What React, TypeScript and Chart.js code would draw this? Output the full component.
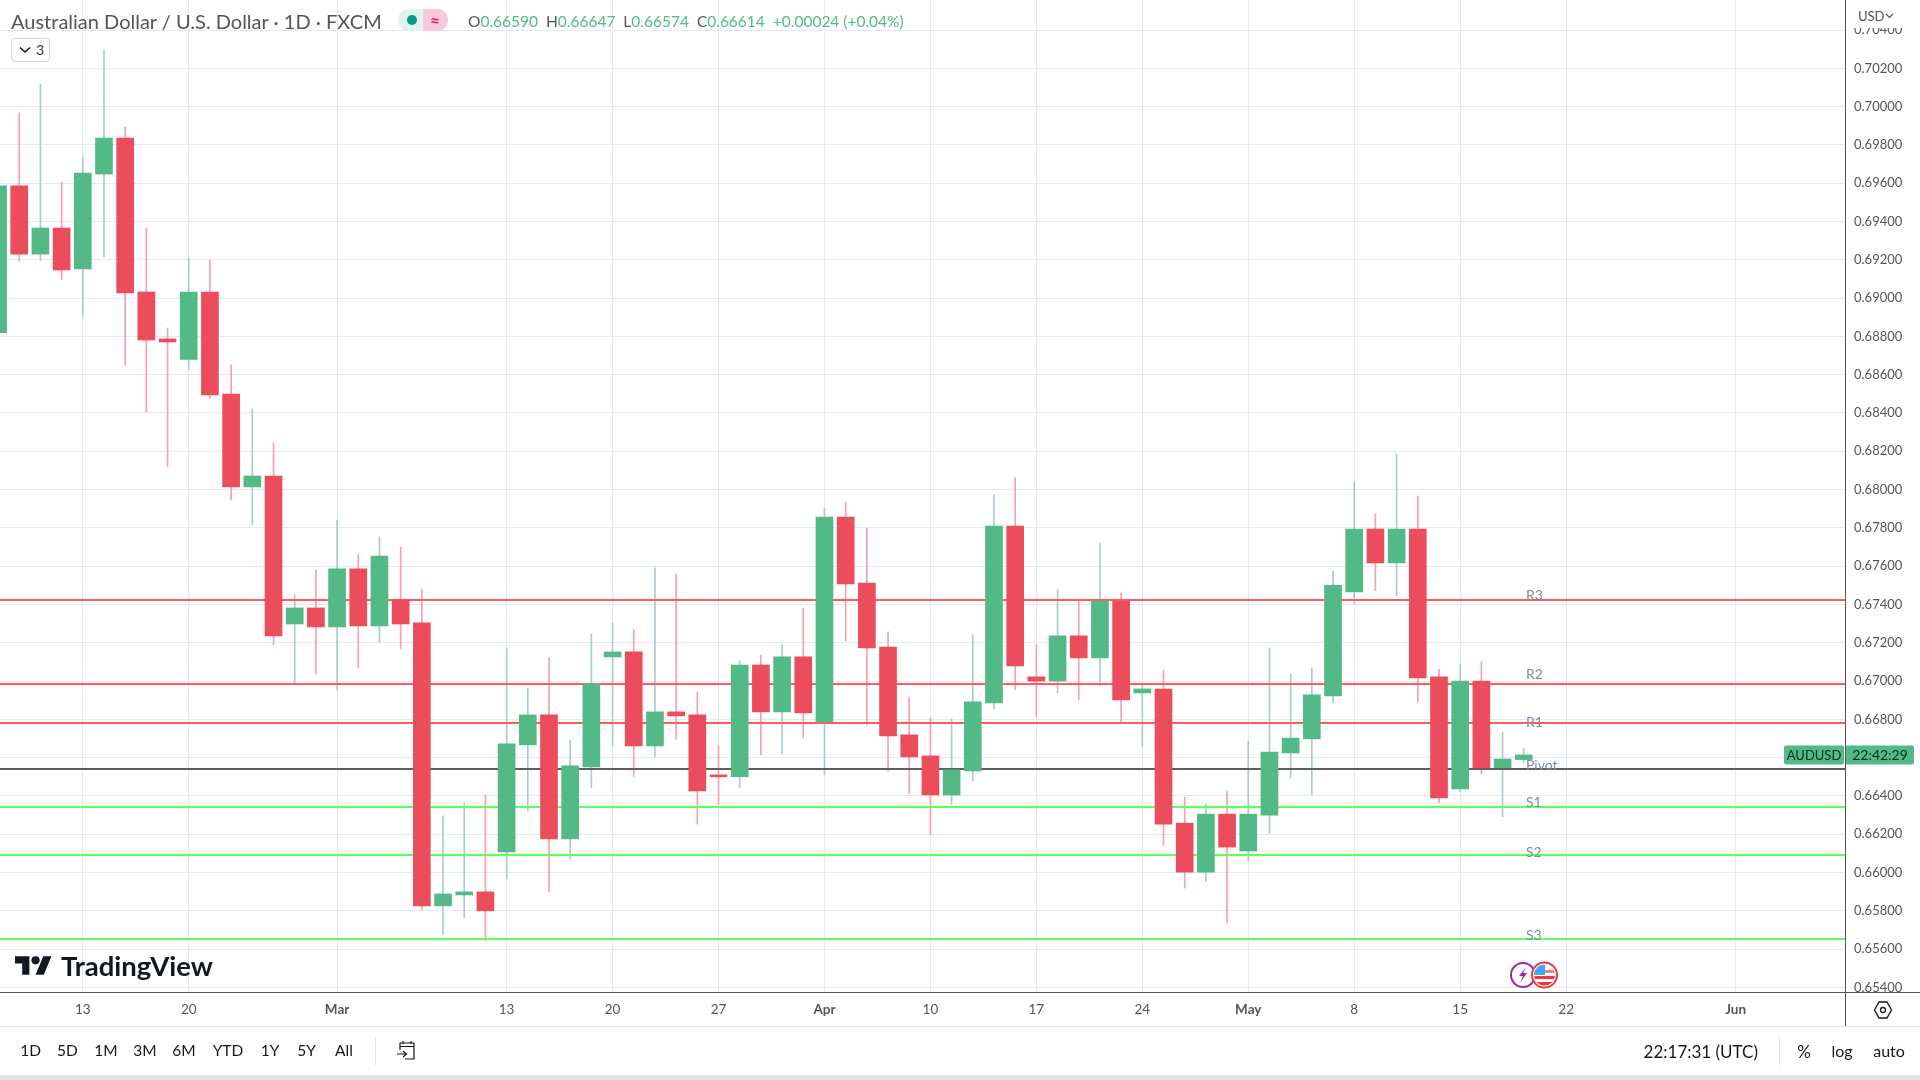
import React, { useEffect, useRef } from "react";
import { Chart, registerables } from "chart.js";

Chart.register(...registerables);

const opens = [0.6882,0.69586,0.6923,0.69366,0.69152,0.69648,0.69836,0.69032,0.68787,0.6868,0.69032,0.68499,0.68014,0.68071,0.67298,0.67382,0.67283,0.67586,0.67288,0.67424,0.67304,0.65826,0.65883,0.65899,0.66108,0.66667,0.66823,0.66176,0.66552,0.67126,0.67152,0.66661,0.66839,0.66823,0.6651,0.665,0.67084,0.66839,0.67126,0.66787,0.67857,0.67512,0.67178,0.66719,0.66609,0.66405,0.66531,0.66886,0.6781,0.67022,0.67,0.67236,0.67121,0.67418,0.66938,0.66958,0.66258,0.66002,0.66305,0.66112,0.663,0.66624,0.66698,0.66922,0.67465,0.67794,0.67617,0.67794,0.67022,0.66437,0.67,0.66547,0.6659];
const highs = [0.697,0.69967,0.70118,0.69606,0.69737,0.70296,0.69894,0.69366,0.68844,0.6921,0.692,0.68651,0.68421,0.68244,0.6745,0.6758,0.67841,0.67664,0.67753,0.677,0.67481,0.66296,0.66364,0.66405,0.67173,0.66964,0.67121,0.6669,0.67246,0.67304,0.67267,0.67591,0.67559,0.66943,0.66661,0.67105,0.67136,0.67189,0.67382,0.67904,0.67935,0.678,0.67257,0.66917,0.66807,0.66802,0.67241,0.67972,0.68061,0.67194,0.67476,0.67424,0.67721,0.6746,0.6698,0.67057,0.66394,0.66357,0.66425,0.66686,0.67172,0.67037,0.67069,0.67575,0.6804,0.67873,0.68186,0.67967,0.67063,0.67089,0.671,0.66734,0.66647];
const lows = [0.6875,0.69194,0.69194,0.69095,0.68907,0.69215,0.68651,0.68404,0.68118,0.6863,0.68478,0.67946,0.67815,0.67189,0.66985,0.67037,0.66954,0.67069,0.67204,0.67168,0.65805,0.65679,0.65763,0.65643,0.65967,0.66322,0.65899,0.66071,0.66442,0.66661,0.665,0.66604,0.66698,0.66253,0.66355,0.66442,0.66614,0.6662,0.66703,0.6651,0.6721,0.66771,0.66531,0.66411,0.66197,0.66355,0.66479,0.66854,0.66954,0.66813,0.66938,0.66901,0.66975,0.66781,0.66656,0.66143,0.65919,0.65955,0.65736,0.6606,0.66206,0.66493,0.66405,0.66886,0.67403,0.67471,0.67445,0.66891,0.66364,0.66421,0.66515,0.66291,0.66574];
const closes = [0.69586,0.6923,0.69366,0.69147,0.69653,0.69836,0.69027,0.68781,0.68771,0.69032,0.68494,0.68014,0.68071,0.67236,0.67382,0.67283,0.67586,0.67288,0.67653,0.67298,0.65826,0.65888,0.65899,0.658,0.66672,0.66823,0.66176,0.66557,0.66985,0.67152,0.66661,0.66839,0.66818,0.66426,0.665,0.67084,0.66839,0.67126,0.66834,0.67857,0.67507,0.67173,0.66713,0.66604,0.66405,0.66536,0.66891,0.6781,0.67079,0.67,0.67236,0.67121,0.67418,0.66901,0.66959,0.66253,0.66002,0.66305,0.66133,0.66305,0.66629,0.66702,0.66928,0.675,0.67794,0.67617,0.67794,0.67016,0.6639,0.67,0.66547,0.66593,0.66614];

const levelNames = ["R3", "R2", "R1", "Pivot", "S1", "S2", "S3"];
const levelValues = [0.674233, 0.669846, 0.66781, 0.665407, 0.663422, 0.660915, 0.656528];
const levelLabelShift = [-5, -10, -1, -4, -5, -3, -4];

const priceTicks = [0.704,0.702,0.7,0.698,0.696,0.694,0.692,0.69,0.688,0.686,0.684,0.682,0.68,0.678,0.676,0.674,0.672,0.67,0.668,0.666,0.664,0.662,0.66,0.658,0.656,0.654];
const dateTickPositions = [4, 9, 16, 24, 29, 34, 39, 44, 49, 54, 59, 64, 69, 74, 82];
const dateTickLabels = ["13", "20", "Mar", "13", "20", "27", "Apr", "10", "17", "24", "May", "8", "15", "22", "Jun"];
const monthLabels = ["Mar", "Apr", "May", "Jun"];
const rangeButtons = ["1D", "5D", "1M", "3M", "6M", "YTD", "1Y", "5Y", "All"];
const rangeCenters = [30.6, 67.3, 106, 145, 184, 228, 270, 306.5, 344];

const FONT = "Lato, 'Noto Sans', sans-serif";
const UP = "#53b987";
const DOWN = "#eb4d5c";
const UP_WICK = "#a5cdd0";
const DOWN_WICK = "#f7a0ae";
const GRID = "#e1ebf1";
const AXIS = "#555555";

const overlay = {
  id: "overlay",
  afterDatasetsDraw(chart: any) {
    const { ctx, scales } = chart;
    const y = scales.y;
    ctx.save();
    ctx.font = `14px ${FONT}`;
    ctx.fillStyle = "#7b8da3";
    ctx.textAlign = "left";
    ctx.textBaseline = "middle";
    levelNames.forEach((n, i) => {
      ctx.fillText(n, 1526, y.getPixelForValue(levelValues[i]) + levelLabelShift[i]);
    });
    // last-price badge
    const last = closes[closes.length - 1];
    const py = y.getPixelForValue(last);
    ctx.fillStyle = UP;
    ctx.beginPath();
    ctx.roundRect(1784, py - 9.5, 60, 19, 2);
    ctx.roundRect(1845, py - 9.5, 69, 19, 2);
    ctx.fill();
    ctx.fillStyle = "#0d2b20";
    ctx.font = `13px ${FONT}`;
    ctx.textAlign = "center";
    ctx.fillText("AUDUSD", 1814, py + 0.5);
    ctx.font = `14px ${FONT}`;
    ctx.fillText("22:42:29", 1880, py + 0.5);
    ctx.restore();
  },
};

function Txt({ x, y, children, size = 15, color = "#131722", align = "center", weight = 400 }: any) {
  const tx = align === "center" ? "-50%" : align === "right" ? "-100%" : "0";
  return (
    <div
      style={{
        position: "absolute",
        left: x,
        top: y,
        transform: `translate(${tx},-50%)`,
        fontFamily: FONT,
        fontSize: size,
        fontWeight: weight,
        color,
        whiteSpace: "pre",
        lineHeight: 1,
      }}
    >
      {children}
    </div>
  );
}

function Box({ x, y, w, h, bg, extra }: any) {
  return <div style={{ position: "absolute", left: x, top: y, width: w, height: h, background: bg, ...extra }} />;
}

export default function App() {
  const ref = useRef<HTMLCanvasElement | null>(null);

  useEffect(() => {
    const indices = opens.map((_, i) => i);
    const isUp = (i: number) => closes[i] >= opens[i];
    const chart = new Chart(ref.current as HTMLCanvasElement, {
      type: "bar",
      data: {
        datasets: [
          {
            type: "bar",
            order: 0,
            grouped: false,
            barThickness: 17,
            borderWidth: 0,
            data: indices.map((i) => ({ x: i, y: [Math.min(opens[i], closes[i]), Math.max(opens[i], closes[i])] })),
            backgroundColor: (c: any) => (isUp(c.dataIndex) ? UP : DOWN),
          },
          ...levelValues.map((v, k) => ({
            type: "line",
            order: 1,
            data: [
              { x: 0, y: v },
              { x: 90, y: v },
            ],
            borderColor: k < 3 ? "#ff5b5b" : k === 3 ? "#5d5d5d" : "#5cff5c",
            borderWidth: 2,
            pointRadius: 0,
          })),
          {
            type: "bar",
            order: 2,
            grouped: false,
            barThickness: 1,
            borderWidth: 0,
            data: indices.map((i) => ({ x: i, y: [lows[i], highs[i]] })),
            backgroundColor: (c: any) => (isUp(c.dataIndex) ? UP_WICK : DOWN_WICK),
          },
        ],
      } as any,
      options: {
        animation: false,
        responsive: false,
        events: [],
        layout: { padding: { top: 0, left: 0, right: 0, bottom: 54 } },
        plugins: { legend: { display: false }, tooltip: { enabled: false }, title: { display: false } },
        scales: {
          x: {
            type: "linear",
            position: "bottom",
            min: 0.0925,
            max: 87.16,
            offset: false,
            grid: { color: GRID, lineWidth: 1, drawTicks: false, offset: false },
            border: { color: AXIS, width: 1 },
            afterFit: (s: any) => {
              s.height = 34;
              s.paddingLeft = 0;
              s.paddingRight = 0;
            },
            afterBuildTicks: (s: any) => {
              s.ticks = dateTickPositions.map((v) => ({ value: v }));
            },
            ticks: {
              autoSkip: false,
              maxRotation: 0,
              minRotation: 0,
              padding: 10,
              color: "#555555",
              font: (c: any) => ({
                family: FONT,
                size: 13.5,
                weight: monthLabels.includes(dateTickLabels[dateTickPositions.indexOf(c.tick?.value)]) ? 700 : 400,
              }),
              callback: (v: any) => dateTickLabels[dateTickPositions.indexOf(v)] ?? "",
            },
          },
          y: {
            type: "linear",
            position: "right",
            min: 0.65376,
            max: 0.70557,
            grid: { color: GRID, lineWidth: 1, drawTicks: false },
            border: { color: AXIS, width: 1 },
            afterFit: (s: any) => {
              s.width = 75;
              s.paddingTop = 0;
              s.paddingBottom = 0;
            },
            afterBuildTicks: (s: any) => {
              s.ticks = priceTicks.map((v) => ({ value: v }));
            },
            ticks: {
              autoSkip: false,
              padding: 9,
              color: "#555555",
              font: { family: FONT, size: 13 },
              callback: (v: any) => Number(v).toFixed(5),
            },
          },
        },
      } as any,
      plugins: [overlay],
    });
    return () => chart.destroy();
  }, []);

  return (
    <div style={{ position: "absolute", left: 0, top: 0, width: 1920, height: 1080, background: "#fff", overflow: "hidden" }}>
      <canvas ref={ref} width={1920} height={1080} style={{ position: "absolute", left: 0, top: 0, display: "block" }} />

      {/* frame lines */}
      <Box x={0} y={992} w={1920} h={1} bg={AXIS} />
      <Box x={1845} y={0} w={1} h={1026} bg={AXIS} />
      <Box x={0} y={1026} w={1920} h={1} bg="#e0e3eb" />
      <Box x={0} y={1075} w={1920} h={5} bg="#e0e3eb" />
      <Box x={375} y={1037} w={1} h={28} bg="#e0e3eb" />
      <Box x={1779} y={1037} w={1} h={28} bg="#e0e3eb" />

      {/* header */}
      <Txt x={11} y={21} align="left" size={20} color="#555">Australian Dollar / U.S. Dollar · 1D · FXCM</Txt>
      <Box x={398} y={9} w={25} h={22} bg="#dff3ef" extra={{ borderRadius: "11px 0 0 11px" }} />
      <Box x={423} y={9} w={25} h={22} bg="#f8c9dc" extra={{ borderRadius: "0 11px 11px 0" }} />
      <Box x={407} y={15} w={10} h={10} bg="#089981" extra={{ borderRadius: "50%" }} />
      <Txt x={435} y={20} size={17} color="#e91e63" weight={700}>≈</Txt>
      <div
        style={{
          position: "absolute",
          left: 468,
          top: 22,
          transform: "translateY(-50%)",
          fontFamily: FONT,
          fontSize: 15.5,
          whiteSpace: "pre",
          color: UP,
          lineHeight: 1,
        }}
      >
        <span style={{ color: "#555" }}>O</span>0.66590  <span style={{ color: "#555" }}>H</span>0.66647  <span style={{ color: "#555" }}>L</span>0.66574  <span style={{ color: "#555" }}>C</span>0.66614  +0.00024 (+0.04%)
      </div>
      <div
        style={{
          position: "absolute",
          left: 11,
          top: 38,
          width: 39,
          height: 24,
          boxSizing: "border-box",
          border: "1px solid #d1d4dc",
          borderRadius: 4,
          background: "#fff",
        }}
      />
      <svg style={{ position: "absolute", left: 19, top: 46 }} width="12" height="8" viewBox="0 0 12 8">
        <path d="M1 1.5 L6 6 L11 1.5" fill="none" stroke="#131722" strokeWidth="1.5" />
      </svg>
      <Txt x={40} y={50} size={14} color="#333">3</Txt>

      {/* USD box */}
      <Box x={1847} y={0} w={73} h={28} bg="#fff" />
      <Txt x={1858} y={16} align="left" size={13} color="#555">USD</Txt>
      <svg style={{ position: "absolute", left: 1885, top: 13 }} width="9" height="6" viewBox="0 0 9 6">
        <path d="M1 1 L4.5 4.5 L8 1" fill="none" stroke="#555" strokeWidth="1.2" />
      </svg>

      {/* logo */}
      <svg style={{ position: "absolute", left: 15, top: 952 }} width="37" height="29" viewBox="0 0 36 28">
        <path d="M14 22H7V11H0V4h14v18zM28 22h-8l7.5-18h8L28 22z" fill="#131722" />
        <circle cx="20" cy="8" r="4" fill="#131722" />
      </svg>
      <Txt x={61} y={966} align="left" size={27.5} color="#131722" weight={700}>TradingView</Txt>

      {/* event icons */}
      <svg style={{ position: "absolute", left: 1508, top: 960 }} width="52" height="30" viewBox="0 0 52 30">
        <circle cx="15" cy="15" r="12" fill="#fff" stroke="#9c27b0" strokeWidth="2" />
        <path d="M18 7 L11 16 L15 16 L12 23 L19 13 L15 13 Z" fill="#9c27b0" />
        <circle cx="36.5" cy="15" r="12.5" fill="#fff" stroke="#f23645" strokeWidth="2" />
        <clipPath id="flagclip"><circle cx="36.5" cy="15" r="10.5" /></clipPath>
        <g clipPath="url(#flagclip)">
          <rect x="26" y="10" width="21" height="3" fill="#f77c80" />
          <rect x="26" y="16" width="21" height="3" fill="#f23645" />
          <rect x="26" y="22" width="21" height="4" fill="#f23645" />
          <rect x="26" y="4" width="11" height="11" fill="#42a5f5" />
        </g>
      </svg>

      {/* settings icon */}
      <svg style={{ position: "absolute", left: 1873, top: 1000 }} width="20" height="20" viewBox="0 0 20 20">
        <path d="M6 2 H14 L18.5 10 L14 18 H6 L1.5 10 Z" fill="none" stroke="#131722" strokeWidth="1.3" />
        <circle cx="10" cy="10" r="2.5" fill="none" stroke="#131722" strokeWidth="1.3" />
      </svg>

      {/* toolbar */}
      {rangeButtons.map((b, i) => (
        <Txt key={b} x={rangeCenters[i]} y={1051} size={15.5}>{b}</Txt>
      ))}
      <svg style={{ position: "absolute", left: 396, top: 1040 }} width="21" height="21" viewBox="0 0 21 21">
        <path d="M4 10 V3 H18 V19 H9 M4 6.5 H18 M7 1 V4 M15 1 V4 M1 14 H10 M7 11 L10.5 14 L7 17" fill="none" stroke="#131722" strokeWidth="1.2" />
      </svg>
      <Txt x={1758} y={1051} align="right" size={17}>22:17:31 (UTC)</Txt>
      <Txt x={1804} y={1051} size={17}>%</Txt>
      <Txt x={1842} y={1051} size={16}>log</Txt>
      <Txt x={1889} y={1051} size={16}>auto</Txt>
    </div>
  );
}
